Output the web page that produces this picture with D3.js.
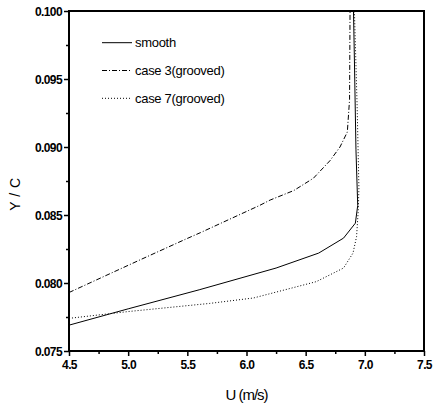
<!DOCTYPE html>
<html><head><meta charset="utf-8">
<script src="https://cdn.jsdelivr.net/npm/d3@7"></script>
<style>body{margin:0;background:#fff}svg{display:block}text{font-family:"Liberation Sans",Arial,sans-serif;fill:#000}</style>
</head><body><div id="c"></div>
<script>
const seriesNames = ["smooth", "case 3(grooved)", "case 7(grooved)"];
const smoothU = [4.5, 5.0, 5.6, 6.25, 6.61, 6.82, 6.92, 6.94, 6.925, 6.912, 6.904];
const smoothY = [0.0769, 0.0781, 0.0795, 0.0811, 0.0822, 0.0833, 0.0844, 0.0857, 0.0898, 0.0964, 0.1000];
const case3U = [4.5, 5.1, 5.48, 5.61, 6.11, 6.2, 6.4, 6.565, 6.706, 6.79, 6.852, 6.871, 6.875];
const case3Y = [0.0793, 0.0817, 0.0832, 0.0837, 0.0857, 0.0861, 0.0868, 0.0877, 0.0890, 0.0900, 0.0911, 0.0935, 0.1000];
const case7U = [4.5, 5.0, 5.69, 6.06, 6.59, 6.82, 6.90, 6.93, 6.945, 6.95, 6.935, 6.912];
const case7Y = [0.0774, 0.0779, 0.0785, 0.0789, 0.0801, 0.0811, 0.0822, 0.0834, 0.0854, 0.0870, 0.0930, 0.1000];
const xTicks = [4.5, 5.0, 5.5, 6.0, 6.5, 7.0, 7.5];
const xMinor = [4.75, 5.25, 5.75, 6.25, 6.75, 7.25];
const yTicks = [0.075, 0.080, 0.085, 0.090, 0.095, 0.100];
const yMinor = [0.0775, 0.0825, 0.0875, 0.0925, 0.0975];
const xTitle = "U (m/s)";
const yTitle = "Y / C";

const W = 436, H = 405;
const L = 69, R = 424, T = 11, B = 351;
const svg = d3.select("#c").append("svg").attr("width", W).attr("height", H);
const x = d3.scaleLinear().domain([4.5, 7.5]).range([L, R]);
const y = d3.scaleLinear().domain([0.075, 0.100]).range([B, T]);

// minor ticks
const xMin = svg.append("g").attr("transform", `translate(0,${B})`)
  .call(d3.axisBottom(x).tickValues(xMinor).tickSize(3).tickFormat(""));
const yMin = svg.append("g").attr("transform", `translate(${L},0)`)
  .call(d3.axisLeft(y).tickValues(yMinor).tickSize(3).tickFormat(""));
[xMin, yMin].forEach(g => { g.select(".domain").remove(); g.selectAll("line").attr("stroke", "#000").attr("stroke-width", 1.5); });

const xa = svg.append("g").attr("transform", `translate(0,${B})`)
  .call(d3.axisBottom(x).tickValues(xTicks).tickSize(5).tickSizeOuter(0).tickPadding(4).tickFormat(d3.format(".1f")));
const ya = svg.append("g").attr("transform", `translate(${L},0)`)
  .call(d3.axisLeft(y).tickValues(yTicks).tickSize(5).tickSizeOuter(0).tickPadding(2).tickFormat(d3.format(".3f")));
[xa, ya].forEach(g => {
  g.select(".domain").remove();
  g.selectAll("line").attr("stroke", "#000").attr("stroke-width", 1.5);
  g.selectAll("text").attr("font-size", 12).attr("font-weight", "bold").attr("letter-spacing", -0.6)
    .attr("font-family", "Liberation Sans, Arial, sans-serif").attr("fill", "#000");
});
ya.selectAll("text").attr("dy", "0.35em");

// frame
svg.append("rect").attr("x", L).attr("y", T).attr("width", R - L).attr("height", B - T)
  .attr("fill", "none").attr("stroke", "#000").attr("stroke-width", 2);

svg.append("clipPath").attr("id", "clip").append("rect").attr("x", L).attr("y", T - 1).attr("width", R - L).attr("height", B - T + 1);

const series = [
  { name: seriesNames[0], u: smoothU, v: smoothY, dash: null },
  { name: seriesNames[1], u: case3U, v: case3Y, dash: "5,2,1,2" },
  { name: seriesNames[2], u: case7U, v: case7Y, dash: "1,2" }
];
const line = d3.line().x(d => x(d[0])).y(d => y(d[1]));
const gl = svg.append("g").attr("clip-path", "url(#clip)");
series.forEach(s => {
  gl.append("path").datum(s.u.map((u, i) => [u, s.v[i]]))
    .attr("d", line).attr("fill", "none").attr("stroke", "#000").attr("stroke-width", 1)
    .attr("stroke-dasharray", s.dash);
});

// legend
const lg = svg.append("g");
series.forEach((s, i) => {
  const ly = 42.7 + i * 27.8;
  lg.append("line").attr("x1", 102).attr("x2", 132).attr("y1", ly).attr("y2", ly)
    .attr("stroke", "#000").attr("stroke-width", 1).attr("stroke-dasharray", s.dash);
  lg.append("text").attr("x", 135).attr("y", ly + 4.6).attr("font-size", 13).attr("letter-spacing", -0.3).text(s.name);
});

svg.append("text").attr("x", (L + R) / 2).attr("y", 400).attr("text-anchor", "middle")
  .attr("font-size", 15).attr("letter-spacing", -1).text(xTitle);
svg.append("text").attr("transform", "translate(20,194) rotate(-90)").attr("text-anchor", "middle")
  .attr("font-size", 14).attr("letter-spacing", 0.5).text(yTitle);
</script></body></html>
